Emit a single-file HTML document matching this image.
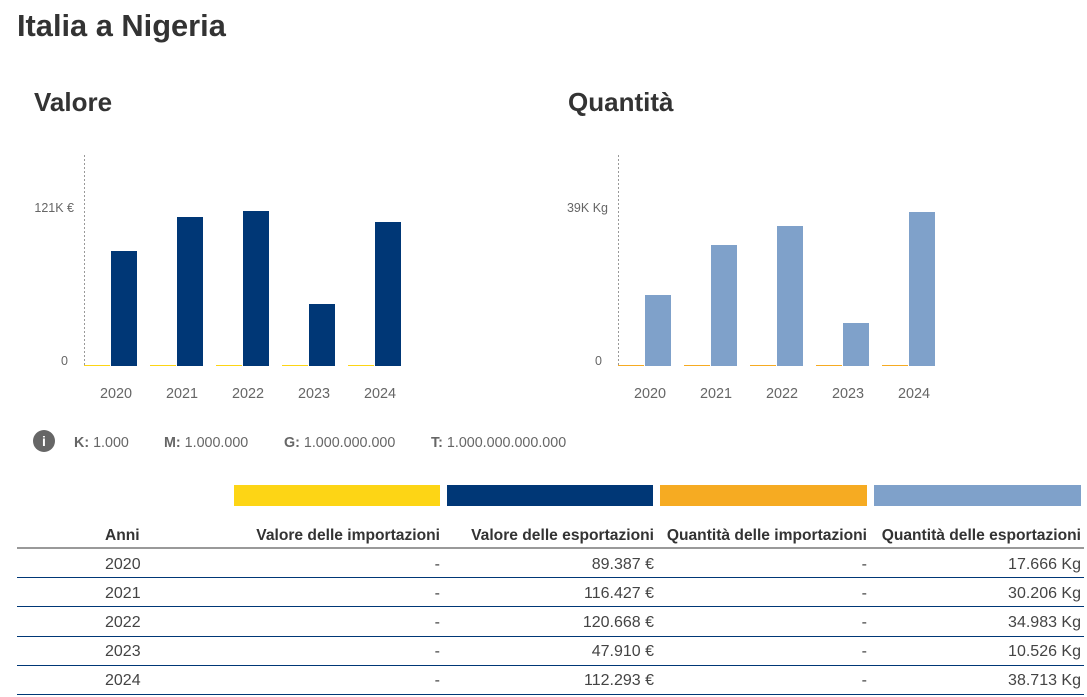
<!DOCTYPE html>
<html><head><meta charset="utf-8"><style>
body{margin:0;background:#fff;width:1087px;height:697px;overflow:hidden;font-family:"Liberation Sans",sans-serif;position:relative}
.a{position:absolute;white-space:nowrap}
</style></head><body>
<div class="a" style="left:17px;top:8px;font-size:30.8px;font-weight:bold;color:#333">Italia a Nigeria</div>
<div class="a" style="left:34px;top:87px;font-size:26px;font-weight:bold;color:#333">Valore</div>
<div class="a" style="left:568px;top:87px;font-size:26px;font-weight:bold;color:#333">Quantità</div>
<svg class="a" style="left:0;top:0" width="1087" height="697" font-family="Liberation Sans, sans-serif">
<g font-size="12.5" fill="#666">
<line x1="84.5" y1="155" x2="84.5" y2="365" stroke="#999" stroke-dasharray="2,2"/>
<text x="74" y="212" text-anchor="end">121K €</text>
<text x="68" y="365" text-anchor="end">0</text>
<line x1="618.5" y1="155" x2="618.5" y2="365" stroke="#999" stroke-dasharray="2,2"/>
<text x="608" y="212" text-anchor="end">39K Kg</text>
<text x="602" y="365" text-anchor="end">0</text>
</g>
<g fill="#003776">
<rect x="111" y="251" width="26" height="115"/><rect x="177" y="217" width="26" height="149"/><rect x="243" y="211" width="26" height="155"/><rect x="309" y="304" width="26" height="62"/><rect x="375" y="222" width="26" height="144"/>
</g>
<g fill="#7fa1ca">
<rect x="645" y="295" width="26" height="71"/><rect x="711" y="245" width="26" height="121"/><rect x="777" y="226" width="26" height="140"/><rect x="843" y="323" width="26" height="43"/><rect x="909" y="212" width="26" height="154"/>
</g>
<g stroke="#fdd515"><line x1="84" y1="365.5" x2="110" y2="365.5"/><line x1="150" y1="365.5" x2="176" y2="365.5"/><line x1="216" y1="365.5" x2="242" y2="365.5"/><line x1="282" y1="365.5" x2="308" y2="365.5"/><line x1="348" y1="365.5" x2="374" y2="365.5"/></g>
<g stroke="#f6ab22"><line x1="618" y1="365.5" x2="644" y2="365.5"/><line x1="684" y1="365.5" x2="710" y2="365.5"/><line x1="750" y1="365.5" x2="776" y2="365.5"/><line x1="816" y1="365.5" x2="842" y2="365.5"/><line x1="882" y1="365.5" x2="908" y2="365.5"/></g>
<g font-size="14.4" fill="#666" text-anchor="middle">
<text x="116" y="398">2020</text><text x="182" y="398">2021</text><text x="248" y="398">2022</text><text x="314" y="398">2023</text><text x="380" y="398">2024</text>
<text x="650" y="398">2020</text><text x="716" y="398">2021</text><text x="782" y="398">2022</text><text x="848" y="398">2023</text><text x="914" y="398">2024</text>
</g>
<circle cx="44" cy="441" r="11" fill="#666"/>
<text x="44" y="446" font-size="14" font-weight="bold" fill="#fff" text-anchor="middle">i</text>
<g font-size="14.3" fill="#666">
<text x="74" y="447"><tspan font-weight="bold">K:</tspan> 1.000</text>
<text x="164" y="447"><tspan font-weight="bold">M:</tspan> 1.000.000</text>
<text x="284" y="447"><tspan font-weight="bold">G:</tspan> 1.000.000.000</text>
<text x="431" y="447"><tspan font-weight="bold">T:</tspan> 1.000.000.000.000</text>
</g>
<rect x="234" y="485" width="206" height="21" fill="#fdd515"/>
<rect x="447" y="485" width="206" height="21" fill="#003776"/>
<rect x="660" y="485" width="207" height="21" fill="#f6ab22"/>
<rect x="874" y="485" width="207" height="21" fill="#7fa1ca"/>
<g font-size="15.6" font-weight="bold" fill="#333">
<text x="105" y="540">Anni</text>
<text x="440" y="540" text-anchor="end">Valore delle importazioni</text>
<text x="654" y="540" text-anchor="end">Valore delle esportazioni</text>
<text x="867" y="540" text-anchor="end">Quantità delle importazioni</text>
<text x="1081" y="540" text-anchor="end">Quantità delle esportazioni</text>
</g>
<line x1="17" y1="548" x2="1084" y2="548" stroke="#999" stroke-width="2"/>
<g stroke="#003776"><line x1="17" y1="577.5" x2="1084" y2="577.5"/><line x1="17" y1="606.5" x2="1084" y2="606.5"/><line x1="17" y1="636.5" x2="1084" y2="636.5"/><line x1="17" y1="665.5" x2="1084" y2="665.5"/><line x1="17" y1="694.5" x2="1084" y2="694.5"/></g>
<g font-size="16" fill="#444">
<text x="105" y="569">2020</text><text x="105" y="598">2021</text><text x="105" y="627">2022</text><text x="105" y="656">2023</text><text x="105" y="685">2024</text>
<g text-anchor="end">
<text x="440" y="569">-</text><text x="440" y="598">-</text><text x="440" y="627">-</text><text x="440" y="656">-</text><text x="440" y="685">-</text>
<text x="654" y="569">89.387 €</text><text x="654" y="598">116.427 €</text><text x="654" y="627">120.668 €</text><text x="654" y="656">47.910 €</text><text x="654" y="685">112.293 €</text>
<text x="867" y="569">-</text><text x="867" y="598">-</text><text x="867" y="627">-</text><text x="867" y="656">-</text><text x="867" y="685">-</text>
<text x="1081" y="569">17.666 Kg</text><text x="1081" y="598">30.206 Kg</text><text x="1081" y="627">34.983 Kg</text><text x="1081" y="656">10.526 Kg</text><text x="1081" y="685">38.713 Kg</text>
</g></g>
</svg>
</body></html>
